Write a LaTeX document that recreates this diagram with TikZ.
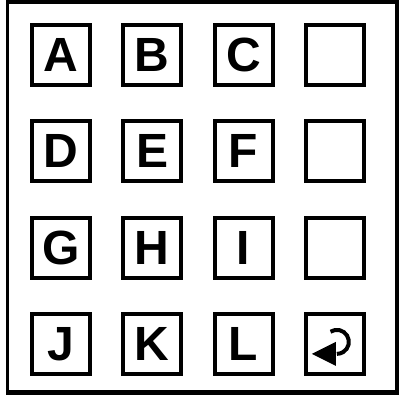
\documentclass[tikz,border=0pt]{standalone}
\usepackage{fontspec}
\newfontfamily\keyfont{Liberation Sans}
\usetikzlibrary{positioning}

\begin{document}
\begin{tikzpicture}[
  x=1pt, y=1pt,
  keybox/.style={draw, line width=4pt, minimum width=58pt,
                 minimum height=60pt, inner sep=0pt,
                 font=\keyfont\bfseries\fontsize{48}{48}\selectfont},
  node distance=32.3pt and 29.3pt
]
  \useasboundingbox (0,0) rectangle (399,-396);
  % outer frame
  \draw[line width=3.5pt] (7.5,-2) rectangle (397,-391.5);
  \draw[line width=3pt] (6,-393.5) -- (399,-393.5);

  \node[keybox] at (61,-55)          (kA) {A};
  \node[keybox, right=of kA]         (kB) {B};
  \node[keybox, right=of kB]         (kC) {C};
  \node[keybox, right=of kC]         (kX1) {};

  \node[keybox, below=of kA]         (kD) {D};
  \node[keybox, right=of kD]         (kE) {E};
  \node[keybox, right=of kE]         (kF) {F};
  \node[keybox, right=of kF]         (kX2) {};

  \node[keybox, below=of kD]         (kG) {G};
  \node[keybox, right=of kG]         (kH) {H};
  \node[keybox, right=of kH]         (kI) {I};
  \node[keybox, right=of kI]         (kX3) {};

  \node[keybox, below=of kG]         (kJ) {J};
  \node[keybox, right=of kJ]         (kK) {K};
  \node[keybox, right=of kK]         (kL) {L};
  \node[keybox, right=of kL]         (kRet) {};

  % return arrow
  \begin{scope}[shift={(kRet.center)}]
    \draw[line width=4pt] (-4.4,12.2) arc[start angle=122, end angle=-90, radius=12];
    \fill (-23,-10) -- (1,2) -- (1,-22) -- cycle;
  \end{scope}
\end{tikzpicture}
\end{document}
